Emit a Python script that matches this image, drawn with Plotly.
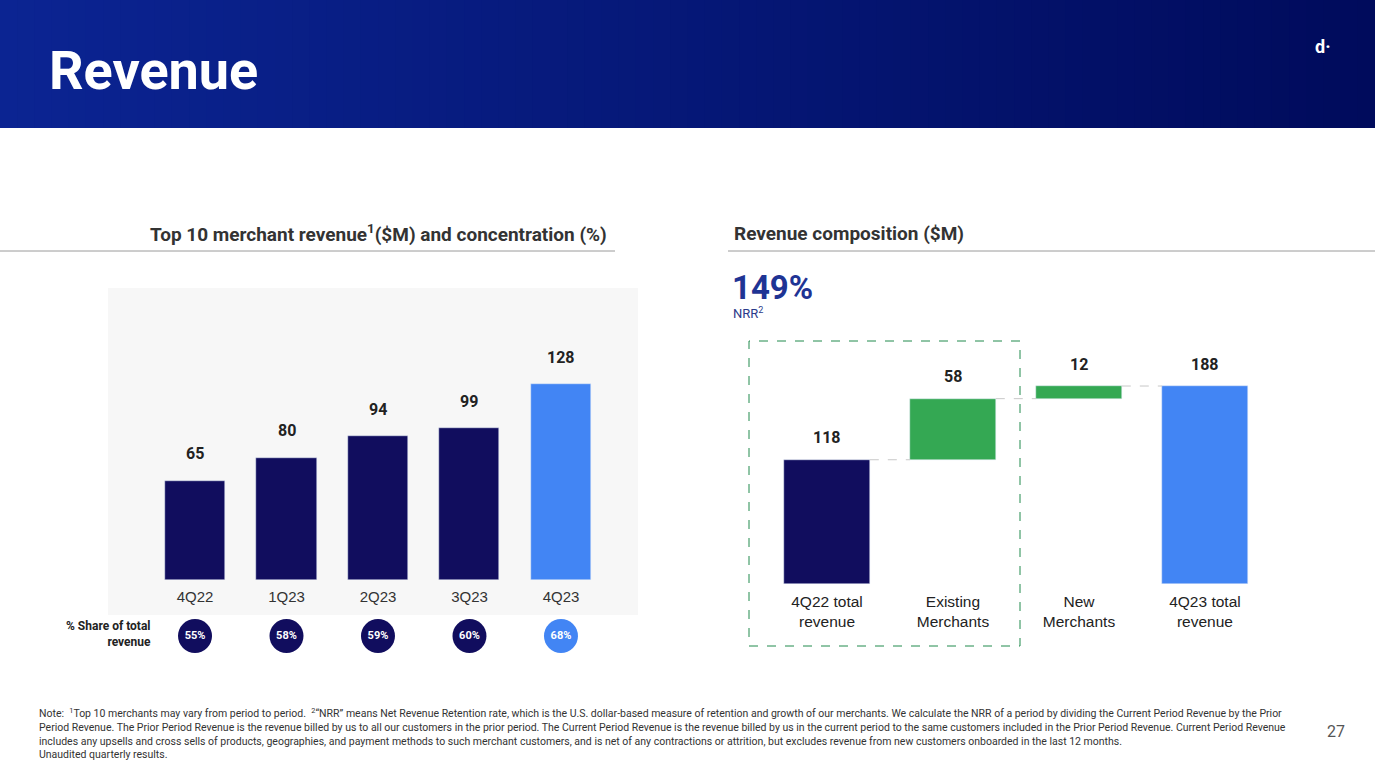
import plotly.graph_objects as go

W, H = 1375, 768

# ---------------- data ----------------
quarters = ["4Q22", "1Q23", "2Q23", "3Q23", "4Q23"]
top10_revenue = [65, 80, 94, 99, 128]
share_pct = [55, 58, 59, 60, 68]

comp_labels = ["4Q22 total<br>revenue", "Existing<br>Merchants", "New<br>Merchants", "4Q23 total<br>revenue"]
comp_values = [118, 58, 12, 188]
comp_measure = ["absolute", "relative", "relative", "total"]

footnote_lines = [
    "Note:  <sup>1</sup>Top 10 merchants may vary from period to period.  <sup>2</sup>\u201cNRR\u201d means Net Revenue Retention rate, which is the U.S. dollar-based measure of retention and growth of our merchants. We calculate the NRR of a period by dividing the Current Period Revenue by the Prior",
    "Period Revenue. The Prior Period Revenue is the revenue billed by us to all our customers in the prior period. The Current Period Revenue is the revenue billed by us in the current period to the same customers included in the Prior Period Revenue. Current Period Revenue",
    "includes any upsells and cross sells of products, geographies, and payment methods to such merchant customers, and is net of any contractions or attrition, but excludes revenue from new customers onboarded in the last 12 months.",
    "Unaudited quarterly results.",
]

NAVY = "#110d5e"
BLUE = "#4285f4"
GREEN = "#34a853"
FONT = "Roboto"
SANS = "Liberation Sans"


def px(x):
    return x / W


def py(y):
    return 1 - y / H


fig = go.Figure()

# ---------------- left chart ----------------
left_colors = [NAVY] * (len(quarters) - 1) + [BLUE]
fig.add_trace(go.Bar(
    x=list(range(len(quarters))), y=top10_revenue, marker_color=left_colors,
    width=0.656, xaxis="x", yaxis="y", hoverinfo="skip",
))
fig.add_trace(go.Scatter(
    x=list(range(len(quarters))), y=[0.5] * len(quarters), xaxis="x", yaxis="y3",
    mode="markers+text", marker=dict(size=34, color=left_colors),
    text=[f"<b>{v}%</b>" for v in share_pct], textposition="middle center",
    textfont=dict(color="white", size=11, family=FONT), hoverinfo="skip",
))

# ---------------- right chart (waterfall as based bars) ----------------
bases, heights, running = [], [], 0
for v, m in zip(comp_values, comp_measure):
    if m == "absolute":
        bases.append(0); heights.append(v); running = v
    elif m == "relative":
        bases.append(running); heights.append(v); running += v
    else:
        bases.append(0); heights.append(running)
right_colors = [NAVY, GREEN, GREEN, BLUE]
fig.add_trace(go.Bar(
    x=list(range(len(comp_labels))), y=heights, base=bases, marker_color=right_colors,
    width=0.68, xaxis="x2", yaxis="y2", hoverinfo="skip",
))

shapes = []
# header gradient
n = 80
c0 = (11, 36, 146)
c1 = (0, 11, 92)
for i in range(n):
    t = i / (n - 1)
    c = tuple(round(c0[k] + (c1[k] - c0[k]) * t) for k in range(3))
    shapes.append(dict(type="rect", xref="paper", yref="paper", layer="below",
                       x0=i / n, x1=(i + 1) / n + 0.001, y0=py(128), y1=1,
                       fillcolor=f"rgb{c}", line_width=0))
# gray panel behind left chart
shapes.append(dict(type="rect", xref="paper", yref="paper", layer="below",
                   x0=px(108), x1=px(638), y0=py(615), y1=py(288),
                   fillcolor="#f7f7f7", line_width=0))
# title underlines
shapes.append(dict(type="line", xref="paper", yref="paper", x0=0, x1=px(615),
                   y0=py(251), y1=py(251), line=dict(color="#9a9a9a", width=1)))
shapes.append(dict(type="line", xref="paper", yref="paper", x0=px(728), x1=1,
                   y0=py(251), y1=py(251), line=dict(color="#9a9a9a", width=1)))
# NRR dashed box
shapes.append(dict(type="rect", xref="paper", yref="paper", x0=px(749), x1=px(1020),
                   y0=py(646), y1=py(341), line=dict(color="#218a4c", width=1, dash="dash")))
# waterfall connectors
for i in range(len(comp_values) - 1):
    level = bases[i] + heights[i]
    shapes.append(dict(type="line", xref="x2", yref="y2", x0=i + 0.34, x1=i + 1 - 0.34,
                       y0=level, y1=level, line=dict(color="#c8c8c8", width=1, dash="dash")))

annotations = []
# value labels left
for i, v in enumerate(top10_revenue):
    annotations.append(dict(x=i, y=v, xref="x", yref="y", text=f"<b>{v}</b>", showarrow=False,
                            yshift=27, font=dict(size=16, color="#222", family=FONT)))
# value labels right
for i, v in enumerate(comp_values):
    annotations.append(dict(x=i, y=bases[i] + heights[i], xref="x2", yref="y2", text=f"<b>{v}</b>",
                            showarrow=False, yshift=22, font=dict(size=16, color="#222", family=FONT)))

annotations += [
    dict(x=px(47), y=py(70), xref="paper", yref="paper", xanchor="left", yanchor="middle",
         text="<b>Revenue</b>", showarrow=False, font=dict(size=54, color="white", family=FONT)),
    dict(x=px(1323), y=py(47), xref="paper", yref="paper", xanchor="center", yanchor="middle",
         text="<b>d·</b>", showarrow=False, font=dict(size=18, color="white", family=FONT)),
    dict(x=px(609), y=py(233), xref="paper", yref="paper", xanchor="right", yanchor="middle",
         text="<b>Top 10 merchant revenue<sup>1</sup>($M) and concentration (%)</b>", showarrow=False,
         font=dict(size=19, color="#333", family=FONT)),
    dict(x=px(732), y=py(233), xref="paper", yref="paper", xanchor="left", yanchor="middle",
         text="<b>Revenue composition ($M)</b>", showarrow=False,
         font=dict(size=19, color="#333", family=FONT)),
    dict(x=px(730), y=py(287), xref="paper", yref="paper", xanchor="left", yanchor="middle",
         text="<b>149%</b>", showarrow=False, font=dict(size=33, color="#1f3494", family=FONT)),
    dict(x=px(731), y=py(313), xref="paper", yref="paper", xanchor="left", yanchor="middle",
         text="NRR<sup>2</sup>", showarrow=False, font=dict(size=13, color="#2a3a8a", family=FONT)),
    dict(x=px(153), y=py(634), xref="paper", yref="paper", xanchor="right", yanchor="middle",
         text="<b>% Share of total<br>revenue</b>", showarrow=False, align="right",
         font=dict(size=12, color="#222", family=FONT)),
    dict(x=px(1336), y=py(731), xref="paper", yref="paper", xanchor="center", yanchor="middle",
         text="27", showarrow=False, font=dict(size=16, color="#555", family=FONT)),
    dict(x=px(37), y=py(733), xref="paper", yref="paper", xanchor="left", yanchor="middle",
         text="<br>".join(footnote_lines), showarrow=False, align="left",
         font=dict(size=10.5, color="#333", family=FONT)),
]

fig.update_layout(
    width=W, height=H, margin=dict(l=0, r=0, t=0, b=0),
    paper_bgcolor="white", plot_bgcolor="rgba(0,0,0,0)", showlegend=False,
    font=dict(family=FONT),
    shapes=shapes, annotations=annotations, bargap=0,
    xaxis=dict(domain=[px(108), px(638)], range=[-0.951, 4.842], anchor="y",
               tickvals=list(range(len(quarters))), ticktext=quarters,
               showgrid=False, zeroline=False, showline=False, ticks="",
               ticklabelstandoff=6, tickfont=dict(size=15, color="#333", family=SANS)),
    yaxis=dict(domain=[py(580), py(288)], range=[0, 190.8], visible=False),
    yaxis3=dict(domain=[py(654), py(618)], range=[0, 1], visible=False, anchor="x"),
    xaxis2=dict(domain=[px(749), px(1290)], range=[-0.619, 3.675], anchor="y2",
                tickvals=list(range(len(comp_labels))), ticktext=comp_labels,
                showgrid=False, zeroline=False, showline=False, ticks="",
                ticklabelstandoff=6, tickfont=dict(size=15.5, color="#222", family=SANS)),
    yaxis2=dict(domain=[py(584), py(340)], range=[0, 231.7], visible=False, anchor="x2"),
)

fig.write_html(
    "out.html",
    config={"displayModeBar": False},
    post_script="document.body.style.margin='0';document.body.style.overflow='hidden';",
)
